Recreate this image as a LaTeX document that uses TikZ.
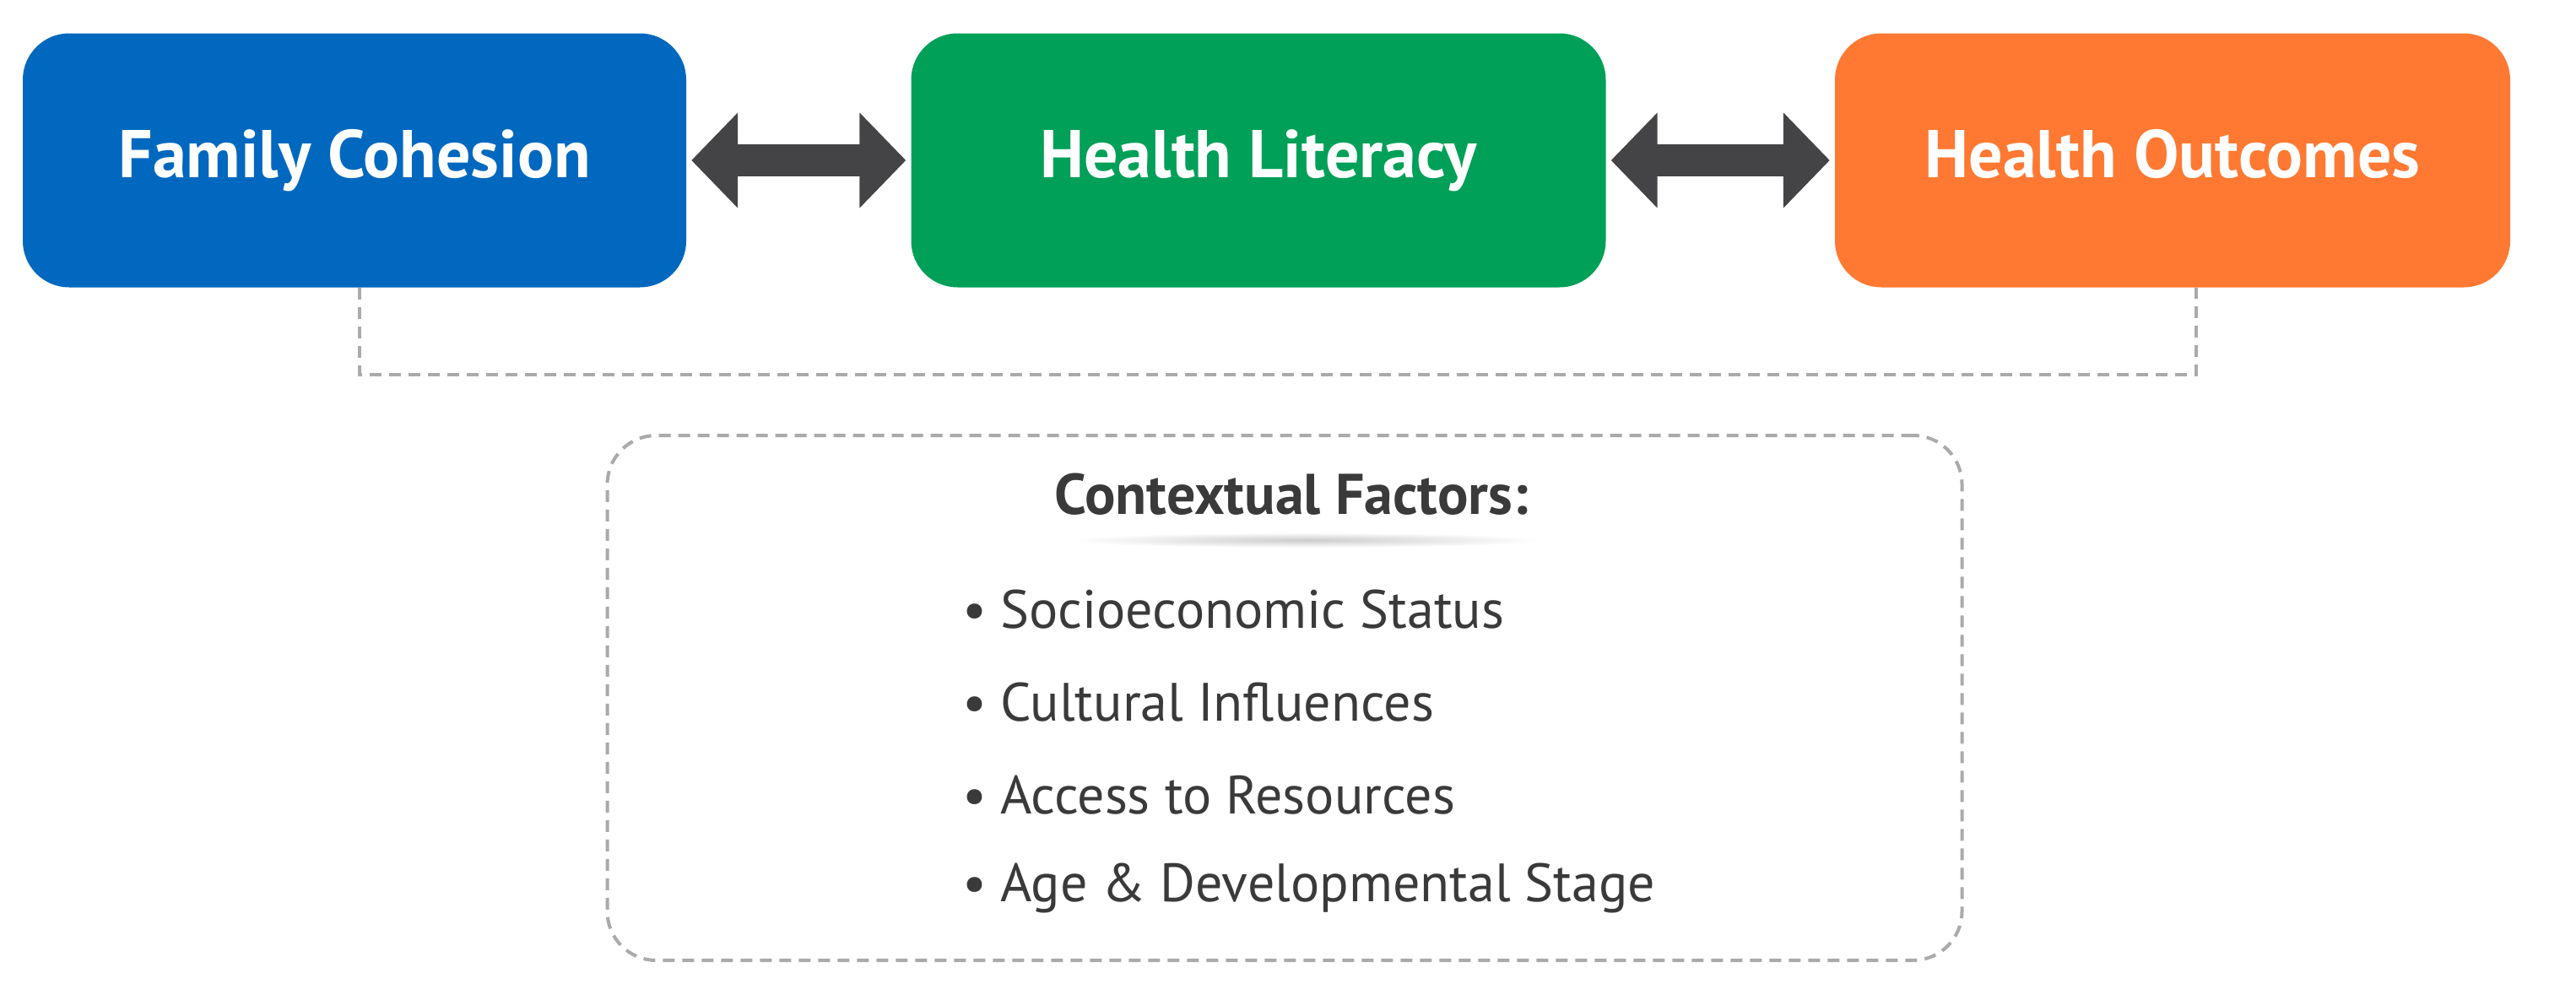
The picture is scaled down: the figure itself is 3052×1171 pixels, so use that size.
\documentclass[tikz,border=0pt]{standalone}
\usepackage{fontspec}
\setmainfont{PT Sans}
\usetikzlibrary{arrows.meta,calc}
\definecolor{fcblue}{RGB}{0,104,191}
\definecolor{hlgreen}{RGB}{0,160,88}
\definecolor{hoorange}{RGB}{255,121,50}
\definecolor{arrgray}{RGB}{68,68,70}
\definecolor{dashgray}{RGB}{170,170,170}
\definecolor{txtgray}{RGB}{58,58,58}
\tikzset{
  mainbox/.style={rounded corners=55pt, minimum height=301pt, text=white,
    font=\fontsize{80}{90}\selectfont\bfseries, inner sep=0pt,
    text height=57pt, text depth=17pt},
  bigarrow/.style={draw=arrgray, line width=38pt,
    {Triangle[length=55pt,width=110pt]}-{Triangle[length=55pt,width=110pt]}, shorten <=6pt, shorten >=6pt},
  dashline/.style={draw=dashgray, line width=4pt, dash pattern=on 14pt off 9pt},
  itemtext/.style={anchor=west, text=txtgray, font=\fontsize{64}{72}\selectfont, inner sep=0pt},
}
\begin{document}
\begin{tikzpicture}[x=1pt,y=-1pt]
\useasboundingbox (0,0) rectangle (3052,1171);
\fill[white] (0,0) rectangle (3052,1171);
\node[mainbox, fill=fcblue, minimum width=786pt] (fc) at (420,190) {Family Cohesion};
\node[mainbox, fill=hlgreen, minimum width=823pt] (hl) at (1491,190) {Health Literacy};
\node[mainbox, fill=hoorange, minimum width=800pt] (ho) at (2574,190) {Health Outcomes};
\draw[bigarrow] (fc) -- (hl);
\draw[bigarrow] (hl) -- (ho);
\coordinate (dl) at (426,444);
\coordinate (dr) at (2602,444);
\draw[dashline] (fc.south -| dl) -- (dl) -- (dr) -- (ho.south -| dr);
\node[draw=dashgray, line width=4pt, dash pattern=on 14pt off 9pt, rounded corners=58pt,
  minimum width=1605pt, minimum height=622pt] (ctx) at (1522,827) {};
\shade[inner color=black!20, outer color=white] (1548,640) ellipse (280 and 9);
\node[text=txtgray, font=\fontsize{68}{76}\selectfont\bfseries] (title) at (1530,586) {Contextual Factors:};
\foreach \t [count=\i] in {Socioeconomic Status, Cultural Influences, Access to Resources, Age \& Developmental Stage}{
  \node[itemtext] (it\i) at (1140, 722 + \i*110 - 110) {\textbullet\hspace{16pt}\t};
}
\end{tikzpicture}
\end{document}
